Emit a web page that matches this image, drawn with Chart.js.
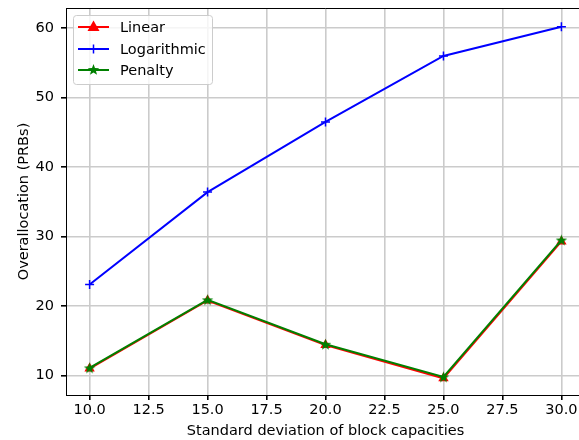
<!DOCTYPE html>
<html>
<head>
<meta charset="utf-8">
<script src="https://cdn.jsdelivr.net/npm/chart.js@4"></script>
<style>
  html, body { margin: 0; padding: 0; background: #fff; overflow: hidden; }
  #wrap { width: 579px; height: 440px; overflow: hidden; }
</style>
</head>
<body>
<div id="wrap"><canvas id="chart" width="600" height="440"></canvas></div>
<script>
// data
const stdDevs = [10, 15, 20, 25, 30];
const linearVals = [11.0, 20.8, 14.4, 9.6, 29.3];
const logVals = [23.1, 36.4, 46.5, 56.0, 60.2];
const penaltyVals = [11.1, 20.9, 14.5, 9.8, 29.5];
const xTicks = [10, 12.5, 15, 17.5, 20, 22.5, 25, 27.5, 30];
const yTicks = [10, 20, 30, 40, 50, 60];

const FONT = "'DejaVu Sans', sans-serif";
const FSIZE = 14.5;
const GRID = '#cbcbcb';

// filled 5-point star for the Penalty marker
function makeStar(size, color) {
    const c = document.createElement('canvas');
    c.width = size; c.height = size;
    const g = c.getContext('2d');
    const cx = size / 2, cy = size / 2 + 0.5, R = size / 2 - 0.5, r = R * 0.42;
    g.beginPath();
    for (let i = 0; i < 10; i++) {
        const rad = i % 2 === 0 ? R : r;
        const a = -Math.PI / 2 + i * Math.PI / 5;
        const px = cx + rad * Math.cos(a), py = cy + rad * Math.sin(a);
        if (i === 0) g.moveTo(px, py); else g.lineTo(px, py);
    }
    g.closePath();
    g.fillStyle = color;
    g.fill();
    return c;
}
const starImg = makeStar(13, '#008000');

function toPoints(vals) {
    return stdDevs.map((x, i) => ({ x: x, y: vals[i] }));
}

// top & right spines
const spines = {
    id: 'spines',
    afterDraw(chart) {
        const a = chart.chartArea, ctx = chart.ctx;
        ctx.save();
        ctx.strokeStyle = '#000';
        ctx.lineWidth = 1;
        ctx.beginPath();
        ctx.moveTo(a.left, a.top + 0.5);
        ctx.lineTo(a.right, a.top + 0.5);
        ctx.moveTo(a.right - 0.5, a.top);
        ctx.lineTo(a.right - 0.5, a.bottom);
        ctx.stroke();
        ctx.restore();
    }
};

// matplotlib-like legend box
const mplLegend = {
    id: 'mplLegend',
    afterDatasetsDraw(chart) {
        const ctx = chart.ctx;
        const x0 = 73, y0 = 15, w = 139, h = 69;
        ctx.save();
        ctx.beginPath();
        ctx.roundRect(x0 + 0.5, y0 + 0.5, w, h, 3);
        ctx.fillStyle = 'rgba(255,255,255,0.8)';
        ctx.fill();
        ctx.strokeStyle = '#cccccc';
        ctx.lineWidth = 1;
        ctx.stroke();

        const rows = [27, 49, 70];
        chart.data.datasets.forEach((ds, i) => {
            const y = rows[i];
            ctx.strokeStyle = ds.borderColor;
            ctx.lineWidth = 2;
            ctx.beginPath();
            ctx.moveTo(78, y);
            ctx.lineTo(109, y);
            ctx.stroke();
            const mx = 93.5;
            if (ds.label === 'Linear') {
                ctx.fillStyle = ds.borderColor;
                ctx.beginPath();
                ctx.moveTo(mx, y - 6.5);
                ctx.lineTo(mx + 6, y + 4);
                ctx.lineTo(mx - 6, y + 4);
                ctx.closePath();
                ctx.fill();
            } else if (ds.label === 'Logarithmic') {
                ctx.lineWidth = 1.5;
                ctx.beginPath();
                ctx.moveTo(mx, y - 4.5); ctx.lineTo(mx, y + 4.5);
                ctx.stroke();
            } else {
                ctx.drawImage(starImg, mx - 6.5, y - 7);
            }
            ctx.fillStyle = '#000';
            ctx.font = FSIZE + 'px ' + FONT;
            ctx.textBaseline = 'middle';
            ctx.fillText(ds.label, 120, y + 1);
        });
        ctx.restore();
    }
};

const ctx = document.getElementById('chart').getContext('2d');
new Chart(ctx, {
    type: 'line',
    data: {
        datasets: [
            {
                label: 'Linear', data: toPoints(linearVals),
                borderColor: '#ff0000', backgroundColor: '#ff0000',
                borderWidth: 2, pointStyle: 'triangle', pointRadius: 6,
                pointBorderWidth: 0, order: 2
            },
            {
                label: 'Logarithmic', data: toPoints(logVals),
                borderColor: '#0000ff', backgroundColor: '#0000ff',
                borderWidth: 2, pointStyle: 'cross', pointRadius: 4.5,
                pointBorderWidth: 1.5, order: 1
            },
            {
                label: 'Penalty', data: toPoints(penaltyVals),
                borderColor: '#008000', backgroundColor: '#008000',
                borderWidth: 2, pointStyle: starImg, pointRadius: 6,
                order: 0
            }
        ]
    },
    options: {
        responsive: false,
        animation: false,
        layout: { padding: { left: 0, top: 8, right: 15, bottom: 0 } },
        plugins: { legend: { display: false }, tooltip: { enabled: false } },
        scales: {
            x: {
                type: 'linear', min: 9, max: 31,
                afterBuildTicks: s => { s.ticks = xTicks.map(v => ({ value: v })); },
                afterFit: s => { s.height = 45; s.paddingLeft = 0; s.paddingRight = 0; },
                grid: { color: GRID, lineWidth: 1.6, tickColor: '#000', tickLength: 5 },
                border: { color: '#000', width: 1 },
                ticks: {
                    color: '#000', font: { family: FONT, size: FSIZE }, padding: 2,
                    maxRotation: 0, autoSkip: false,
                    callback: v => v.toFixed(1)
                },
                title: {
                    display: true, text: 'Standard deviation of block capacities',
                    color: '#000', font: { family: FONT, size: FSIZE }, padding: { top: 1, bottom: 0 }
                }
            },
            y: {
                type: 'linear', min: 7.2, max: 62.9,
                afterBuildTicks: s => { s.ticks = yTicks.map(v => ({ value: v })); },
                afterFit: s => { s.width = 66; s.paddingTop = 0; s.paddingBottom = 0; },
                grid: { color: GRID, lineWidth: 1.6, tickColor: '#000', tickLength: 5 },
                border: { color: '#000', width: 1 },
                ticks: {
                    color: '#000', font: { family: FONT, size: FSIZE }, padding: 7,
                    autoSkip: false
                },
                title: {
                    display: true, text: 'Overallocation (PRBs)',
                    color: '#000', font: { family: FONT, size: FSIZE }, padding: { top: 16, bottom: 0 }
                }
            }
        }
    },
    plugins: [spines, mplLegend]
});
</script>
</body>
</html>
